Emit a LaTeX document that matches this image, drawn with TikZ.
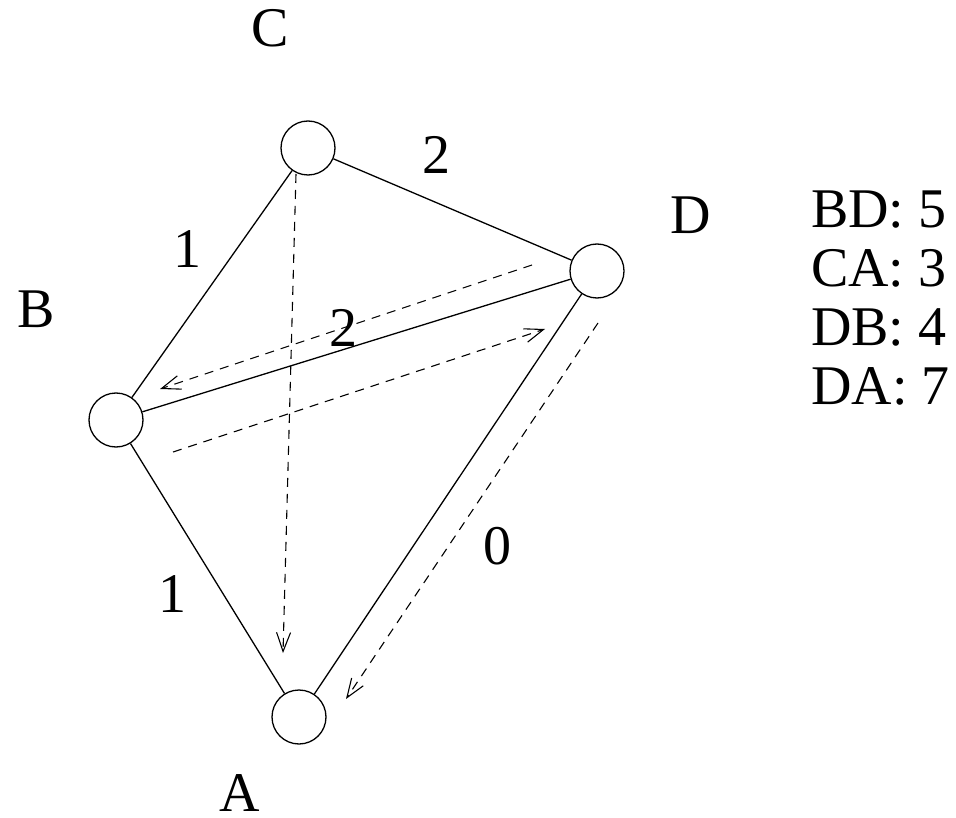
\documentclass[tikz,border=0pt]{standalone}
\usepackage{fontspec}
\setmainfont{Liberation Serif}
\usetikzlibrary{arrows.meta}
\begin{document}
\begin{tikzpicture}[x=1pt,y=-1pt,
  vert/.style={circle,draw,line width=1.3pt,minimum size=54pt,inner sep=0pt},
  edge/.style={line width=1.3pt},
  flow/.style={line width=1.1pt,dash pattern=on 9pt off 7pt,-{Straight Barb[length=19pt,width=14pt,line width=1.1pt]}},
  lbl/.style={font=\fontsize{56}{66}\selectfont,inner sep=0pt,anchor=base}]
\useasboundingbox (0,0) rectangle (956,818);
\node[vert] (C) at (308,148) {};
\node[vert] (D) at (597,271) {};
\node[vert] (B) at (116,420) {};
\node[vert] (A) at (299,717) {};
\node[lbl] (lC) at (270,47) {C};
\node[lbl] (lD) at (691,234) {D};
\node[lbl] (lB) at (36,327) {B};
\node[lbl] (lA) at (240,811) {A};
\draw[edge] (C) -- (D);
\draw[edge] (C) -- (B);
\draw[edge] (B) -- (D);
\draw[edge] (B) -- (A);
\draw[edge] (D) -- (A);
\node[lbl] (wCD) at (436,174) {2};
\node[lbl] (wCB) at (187,268) {1};
\node[lbl] (wBD) at (343,346) {2};
\node[lbl] (wBA) at (172,612) {1};
\node[lbl] (wDA) at (497,564) {0};
\coordinate (s1) at (296,174);
\coordinate (t1) at (283,653);
\coordinate (s2) at (532,265);
\coordinate (t2) at (160,389);
\coordinate (s3) at (173,452);
\coordinate (t3) at (545,329);
\coordinate (s4) at (598,323);
\coordinate (t4) at (346,699);
\draw[flow] (s1) -- (t1);
\draw[flow] (s2) -- (t2);
\draw[flow] (s3) -- (t3);
\draw[flow] (s4) -- (t4);
\node[lbl,anchor=base west] (L1) at (811,228) {BD: 5};
\node[lbl,anchor=base west] (L2) at (811,287) {CA: 3};
\node[lbl,anchor=base west] (L3) at (811,345) {DB: 4};
\node[lbl,anchor=base west] (L4) at (811,404) {DA: 7};
\end{tikzpicture}
\end{document}
